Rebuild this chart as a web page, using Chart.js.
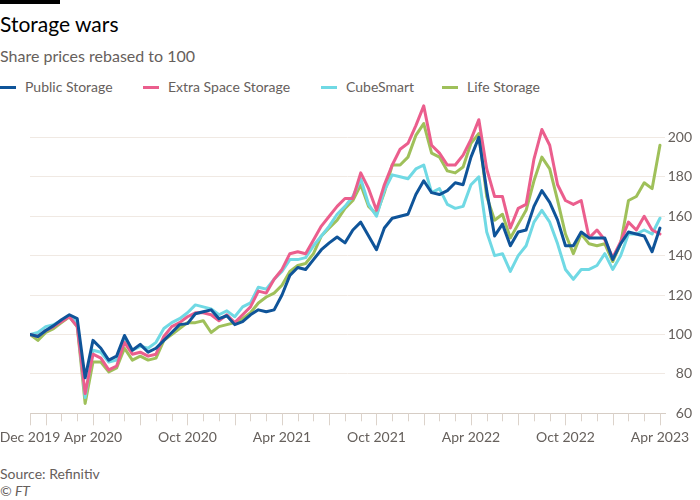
<!DOCTYPE html>
<html>
<head>
<meta charset="utf-8">
<script src="https://cdn.jsdelivr.net/npm/chart.js@4.4.0/dist/chart.umd.min.js"></script>
<style>
  body { margin: 0; width: 700px; height: 500px; background: #fff; font-family: Lato, "Open Sans", sans-serif; position: relative; overflow: hidden; }
  .topbar { position: absolute; left: 0; top: 0; width: 60px; height: 4px; background: #000; }
  .title { position: absolute; left: 0; top: 13px; font-size: 21px; line-height: 21px; color: #000; }
  .subtitle { position: absolute; left: 0; top: 48px; font-size: 16px; line-height: 16px; color: #66605c; }
  .legend-item { position: absolute; top: 80px; font-size: 14px; line-height: 14px; color: #66605c; white-space: nowrap; }
  .legend-item span.sw { position: absolute; top: 6px; width: 16px; height: 3px; }
  .legend-item span.tx { position: absolute; top: 0; }
  .chart-box { position: absolute; left: 0; top: 86px; width: 700px; height: 370px; }
  .source { position: absolute; left: 0; top: 467px; font-size: 14px; line-height: 14px; color: #66605c; }
  .copy { position: absolute; left: 0; top: 484px; font-size: 14px; line-height: 14px; color: #66605c; font-style: italic; }
</style>
</head>
<body>
<div class="topbar"></div>
<div class="title">Storage wars</div>
<div class="subtitle">Share prices rebased to 100</div>
<div id="legend"></div>
<div class="chart-box"><canvas id="chart" width="700" height="370"></canvas></div>
<div class="source">Source: Refinitiv</div>
<div class="copy">© FT</div>

<script>
// values sampled every half month, starting Dec 2019 (month 0) up to Apr 2023 (month 40)
const publicStorage = [100, 99, 102, 104.5, 107.5, 110, 108, 78, 97, 93, 87, 89, 99.5, 92, 95, 91, 93,
  97, 101, 105, 105.5, 110.5, 111.5, 112.5, 108, 109.5, 105, 106.5, 110, 112.5, 111.5, 112.5,
  120, 130, 134, 133, 138, 143, 146.5, 149.5, 146.5, 153, 157, 150, 143, 154, 159, 160,
  161, 171, 178, 172, 171, 173, 177, 176, 190, 200, 173, 150, 156, 145, 152, 153,
  165, 173, 167, 158, 145, 145, 152, 149, 149, 149, 138, 146, 152, 151, 150, 142, 154];
const extraSpace = [100, 99, 102, 104, 106.5, 109, 104, 70, 90, 88, 82, 84, 96, 90, 91, 89, 90,
  99, 104, 106, 109, 111, 111, 110, 107, 110, 106, 110, 114, 122, 121, 128,
  133, 141, 142, 141, 148, 155, 160, 165, 169, 169, 182, 174, 163, 176, 186, 194,
  197, 206, 216, 196, 192, 186, 186, 191, 199, 209, 184, 170, 170, 154, 164, 166,
  189, 204, 196, 176, 168, 166, 168, 149, 153, 148, 139, 147, 157, 153, 160, 153, 151];
const cubeSmart = [100, 101, 104, 105, 107, 109, 106, 68, 92, 91, 86, 87, 97, 92, 94, 93, 96,
  103, 106, 108, 111, 115, 114, 113, 110, 112, 109, 114, 116, 124, 123, 128,
  132, 138, 138, 139, 145, 150, 155, 161, 165, 170, 179, 166, 160, 173, 181, 180,
  179, 184, 186, 172, 174, 166, 164, 165, 176, 180, 152, 140, 141, 132, 140, 145,
  157, 163, 157, 146, 133, 128, 133, 133, 135, 141, 133, 140, 151, 151, 153, 151, 159];
const lifeStorage = [100, 97, 101, 103, 106, 109, 104, 65, 86, 86, 81, 83, 93, 87, 89, 87, 88,
  97, 100, 103, 106, 106, 107, 101, 104, 105, 106, 108, 111, 116, 119, 121,
  125, 132, 135, 136, 141, 150, 154, 158, 164, 168, 176, 165, 161, 172, 186, 186,
  190, 201, 207, 192, 190, 183, 182, 185, 197, 202, 170, 158, 161, 149, 156, 163,
  178, 190, 184, 168, 151, 141, 151, 146, 145, 146, 137, 146, 168, 170, 177, 174, 196];

const sampleMonths = publicStorage.map((_, i) => i / 2);

const seriesNames = ['Public Storage', 'Extra Space Storage', 'CubeSmart', 'Life Storage'];
const seriesColors = ['#0f5499', '#eb5e8d', '#70d9e4', '#9fc05a'];
const legendLeft = [0, 143, 321, 442];

const tickMonths = [0, 4, 10, 16, 22, 28, 34, 40];
const tickLabels = ['Dec 2019', 'Apr 2020', 'Oct 2020', 'Apr 2021', 'Oct 2021', 'Apr 2022', 'Oct 2022', 'Apr 2023'];
const yTicks = [60, 80, 100, 120, 140, 160, 180, 200];

const textColor = '#66605c';
const font = { family: 'Lato', size: 14 };

// html legend
const legend = document.getElementById('legend');
seriesNames.forEach((name, i) => {
  const item = document.createElement('div');
  item.className = 'legend-item';
  item.style.left = legendLeft[i] + 'px';
  item.innerHTML = '<span class="sw" style="left:0;background:' + seriesColors[i] + '"></span>' +
    '<span class="tx" style="left:25px">' + name + '</span>';
  legend.appendChild(item);
});

// monthly tick marks, longer at quarter months
const monthTicks = {
  id: 'monthTicks',
  afterDraw(chart) {
    const xs = chart.scales.x;
    const ctx = chart.ctx;
    ctx.save();
    ctx.strokeStyle = '#dcd3cb';
    ctx.lineWidth = 1;
    for (let m = 0; m <= 40; m++) {
      const px = Math.round(xs.getPixelForValue(m)) + 0.5;
      const len = (m === 0 || m % 3 === 1) ? 12 : 8;
      ctx.beginPath();
      ctx.moveTo(px, xs.top);
      ctx.lineTo(px, xs.top + len);
      ctx.stroke();
    }
    ctx.restore();
  }
};

const datasets = [publicStorage, extraSpace, cubeSmart, lifeStorage].map((vals, i) => ({
  label: seriesNames[i],
  data: vals.map((v, j) => ({ x: sampleMonths[j], y: v })),
  borderColor: seriesColors[i],
  backgroundColor: seriesColors[i],
  borderWidth: 3,
  pointRadius: 0,
  tension: 0,
  borderJoinStyle: 'round',
  borderCapStyle: 'round'
}));

new Chart(document.getElementById('chart').getContext('2d'), {
  type: 'line',
  data: { datasets },
  plugins: [monthTicks],
  options: {
    responsive: false,
    animation: false,
    layout: { padding: { left: 30, right: 8, top: 12, bottom: 6.7 } },
    plugins: { legend: { display: false }, tooltip: { enabled: false } },
    scales: {
      x: {
        type: 'linear',
        min: 0,
        max: 40.32,
        afterBuildTicks: s => { s.ticks = tickMonths.map(v => ({ value: v })); },
        grid: { display: true, drawOnChartArea: false, drawTicks: true, tickLength: 12, color: 'rgba(0,0,0,0)' },
        border: { display: true, color: '#d6cdc5', width: 1 },
        ticks: {
          autoSkip: false, maxRotation: 0, padding: 4, color: textColor, font,
          callback: v => tickLabels[tickMonths.indexOf(v)]
        },
        afterFit: s => { s.height = 36; s.paddingLeft = 0; s.paddingRight = 0; }
      },
      y: {
        position: 'right',
        min: 60,
        max: 220,
        afterBuildTicks: s => { s.ticks = yTicks.map(v => ({ value: v })); },
        grid: { color: '#f0e9e3', drawTicks: false },
        border: { display: false },
        ticks: { padding: 6, crossAlign: 'far', color: textColor, font },
        afterFit: s => { s.width = 27; s.paddingTop = 0; s.paddingBottom = 0; }
      }
    }
  }
});
</script>
</body>
</html>
